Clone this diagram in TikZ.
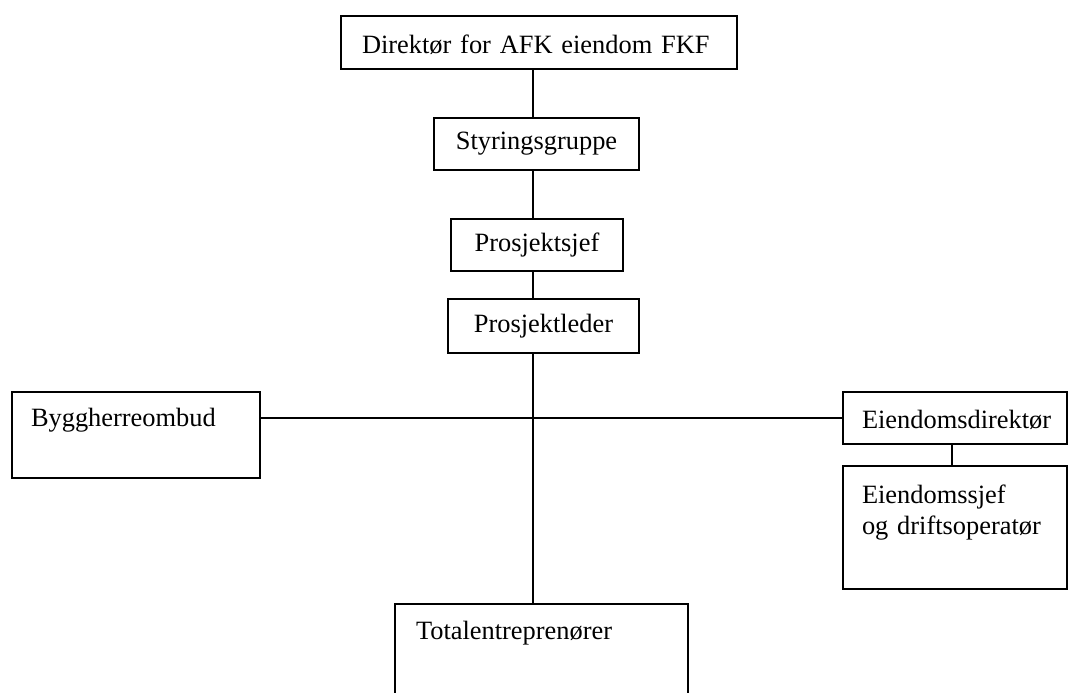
\documentclass[tikz,border=0pt]{standalone}
\usepackage{fontspec}
\setmainfont{Liberation Serif}
\usepackage{tikz}
\usetikzlibrary{positioning}
\definecolor{ink}{HTML}{000000}

\begin{document}
\begin{tikzpicture}[x=1pt,y=-1pt,
  orgbox/.style={draw=ink, line width=2pt, inner sep=0pt, anchor=north west,
    font=\fontsize{26.4}{31}\selectfont},
  midbox/.style={orgbox, align=center},
  leftbox/.style={orgbox, align=left, inner xsep=19pt},
  link/.style={draw=ink, line width=2pt}]
\useasboundingbox (0,0) rectangle (1068,693);
\clip (0,0) rectangle (1068,693);
\coordinate (spine) at (533,0);
\node[leftbox, inner xsep=21pt, text width=354pt, text height=37pt, text depth=16pt] (dir) at (340,15) {Direktør for AFK eiendom FKF};
\node[midbox, minimum width=205pt, minimum height=52pt] (styr) at (433,117) {Styringsgruppe};
\node[midbox, minimum width=172pt, minimum height=52pt] (sjef) at (450,218) {Prosjektsjef};
\node[midbox, minimum width=191pt, minimum height=54pt] (leder) at (447,298) {Prosjektleder};
\node[leftbox, text width=210pt, text height=34pt, text depth=52pt] (ombud) at (11,391) {Byggherreombud};
\node[leftbox, text width=186pt, text height=36pt, text depth=16pt] (edir) at (842,391) {Eiendomsdirektør};
\node[leftbox, text width=186pt, text height=37pt, text depth=86pt] (esjef) at (842,465) {Eiendomssjef\\og driftsoperatør};
\node[leftbox, inner xsep=21pt, text width=251pt, text height=35pt, text depth=82pt] (total) at (394,603) {Totalentreprenører};
% lines
\draw[link] (dir.south -| spine) -- (styr.north -| spine);
\draw[link] (styr.south -| spine) -- (sjef.north -| spine);
\draw[link] (sjef.south -| spine) -- (leder.north -| spine);
\draw[link] (leder.south -| spine) -- (total.north -| spine);
\draw[link] (ombud.east |- edir.west) -- (edir.west);
\draw[link] ([xshift=-3pt]edir.south) -- ([xshift=-3pt]esjef.north);
\end{tikzpicture}
\end{document}
